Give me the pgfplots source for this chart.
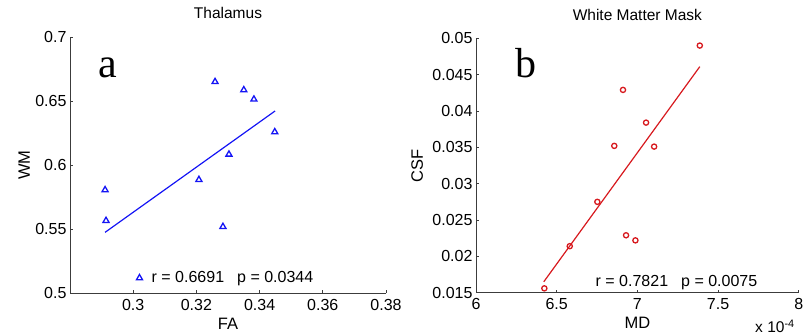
\documentclass[border=0pt]{standalone}
\usepackage{fontspec}
\setmainfont{Liberation Sans}
\newfontfamily\seriffont{Liberation Serif}
\usepackage{pgfplots}
\pgfplotsset{compat=1.18}
\definecolor{mblue}{RGB}{20,20,245}
\definecolor{mred}{RGB}{215,25,30}
\definecolor{axgray}{RGB}{60,60,60}
\pgfplotsset{mat/.style={
  scale only axis,
  scaled x ticks=false, scaled y ticks=false,
  axis x line*=bottom, axis y line*=left,
  axis line style={axgray, line width=0.8bp, -},
  tick align=inside,
  major tick length=3bp,
  tick style={axgray, line width=0.8bp},
  ticklabel style={font=\fontsize{16bp}{19bp}\selectfont},
  xticklabel style={anchor=base, yshift=-17bp},
  label style={font=\fontsize{16.5bp}{19bp}\selectfont},
  title style={font=\fontsize{15.5bp}{18bp}\selectfont},
  clip=false,
}}
\begin{document}
\begin{tikzpicture}
\useasboundingbox (0,0) rectangle (812bp,335bp);
\begin{axis}[mat, at={(70bp,42bp)}, anchor=south west, width=316bp, height=256bp,
  xmin=0.28, xmax=0.38, ymin=0.5, ymax=0.7,
  xtick={0.3,0.32,0.34,0.36,0.38}, xticklabels={0.3,0.32,0.34,0.36,0.38},
  ytick={0.5,0.55,0.6,0.65,0.7}, yticklabels={0.5,0.55,0.6,0.65,0.7},
  title={Thalamus}, title style={at={(axis description cs:0.5,1.047)}, anchor=base},
  xlabel={FA}, xlabel style={at={(axis description cs:0.5,-0.1445)}, anchor=base},
  ylabel={WM}, ylabel style={at={(axis description cs:-0.1266,0.5)}, anchor=base},
  legend style={at={(axis description cs:0.206,0.0586)}, anchor=west, draw=none, fill=none,
    font=\fontsize{16bp}{19bp}\selectfont, inner sep=0pt},
  legend image code/.code={\draw[#1] plot coordinates {(0bp,0bp)}; \path (-4bp,-3bp) (10bp,3bp);},
]
\addplot[only marks, mark=triangle, mark size=3.5bp, mblue, mark options={line width=1.3bp}] coordinates {
(0.2911,0.5805) (0.2914,0.5565) (0.3208,0.5885) (0.3259,0.6650) (0.3284,0.5518)
(0.3303,0.6083) (0.3350,0.6586) (0.3382,0.6513) (0.3448,0.6258)};
\addlegendentry{r = 0.6691\hspace{13bp}p = 0.0344}
\addplot[mblue, line width=1.2bp, forget plot] coordinates {(0.2911,0.5474) (0.3449,0.6422)};
\node[font=\seriffont\fontsize{42bp}{44bp}\selectfont, anchor=base] at (axis description cs:0.12,0.8426) {a};
\end{axis}
\begin{axis}[mat, at={(476bp,42.3bp)}, anchor=south west, width=322.7bp, height=254.4bp,
  xmin=6, xmax=8, ymin=0.015, ymax=0.05,
  xtick={6,6.5,7,7.5,8}, xticklabels={6,6.5,7,7.5,8},
  ytick={0.015,0.02,0.025,0.03,0.035,0.04,0.045,0.05},
  yticklabels={0.015,0.02,0.025,0.03,0.035,0.04,0.045,0.05},
  title={White Matter Mask}, title style={at={(axis description cs:0.5,1.048)}, anchor=base},
  xlabel={MD}, xlabel style={at={(axis description cs:0.5,-0.139)}, anchor=base},
  ylabel={CSF}, ylabel style={at={(axis description cs:-0.165,0.5)}, anchor=base},
]
\addplot[only marks, mark=o, mark size=2.6bp, mred, mark options={line width=1.3bp}] coordinates {
(6.4235,0.0156) (6.581,0.0214) (6.752,0.0275) (6.857,0.0352) (6.911,0.0429)
(6.930,0.0229) (6.988,0.0222) (7.054,0.0384) (7.104,0.0351) (7.387,0.0490)};
\addplot[mred, line width=1.2bp] coordinates {(6.42,0.0165) (7.387,0.0461)};
\node[font=\fontsize{16bp}{19bp}\selectfont, anchor=west] at (axis description cs:0.36,0.038) {r = 0.7821\hspace{13bp}p = 0.0075};
\node[font=\fontsize{15.5bp}{18bp}\selectfont, anchor=base west, inner sep=0pt] at (axis description cs:0.8646,-0.158) {x 10\textsuperscript{-4}};
\node[font=\seriffont\fontsize{42bp}{44bp}\selectfont, anchor=base] at (axis description cs:0.156,0.845) {b};
\end{axis}
\end{tikzpicture}
\end{document}
